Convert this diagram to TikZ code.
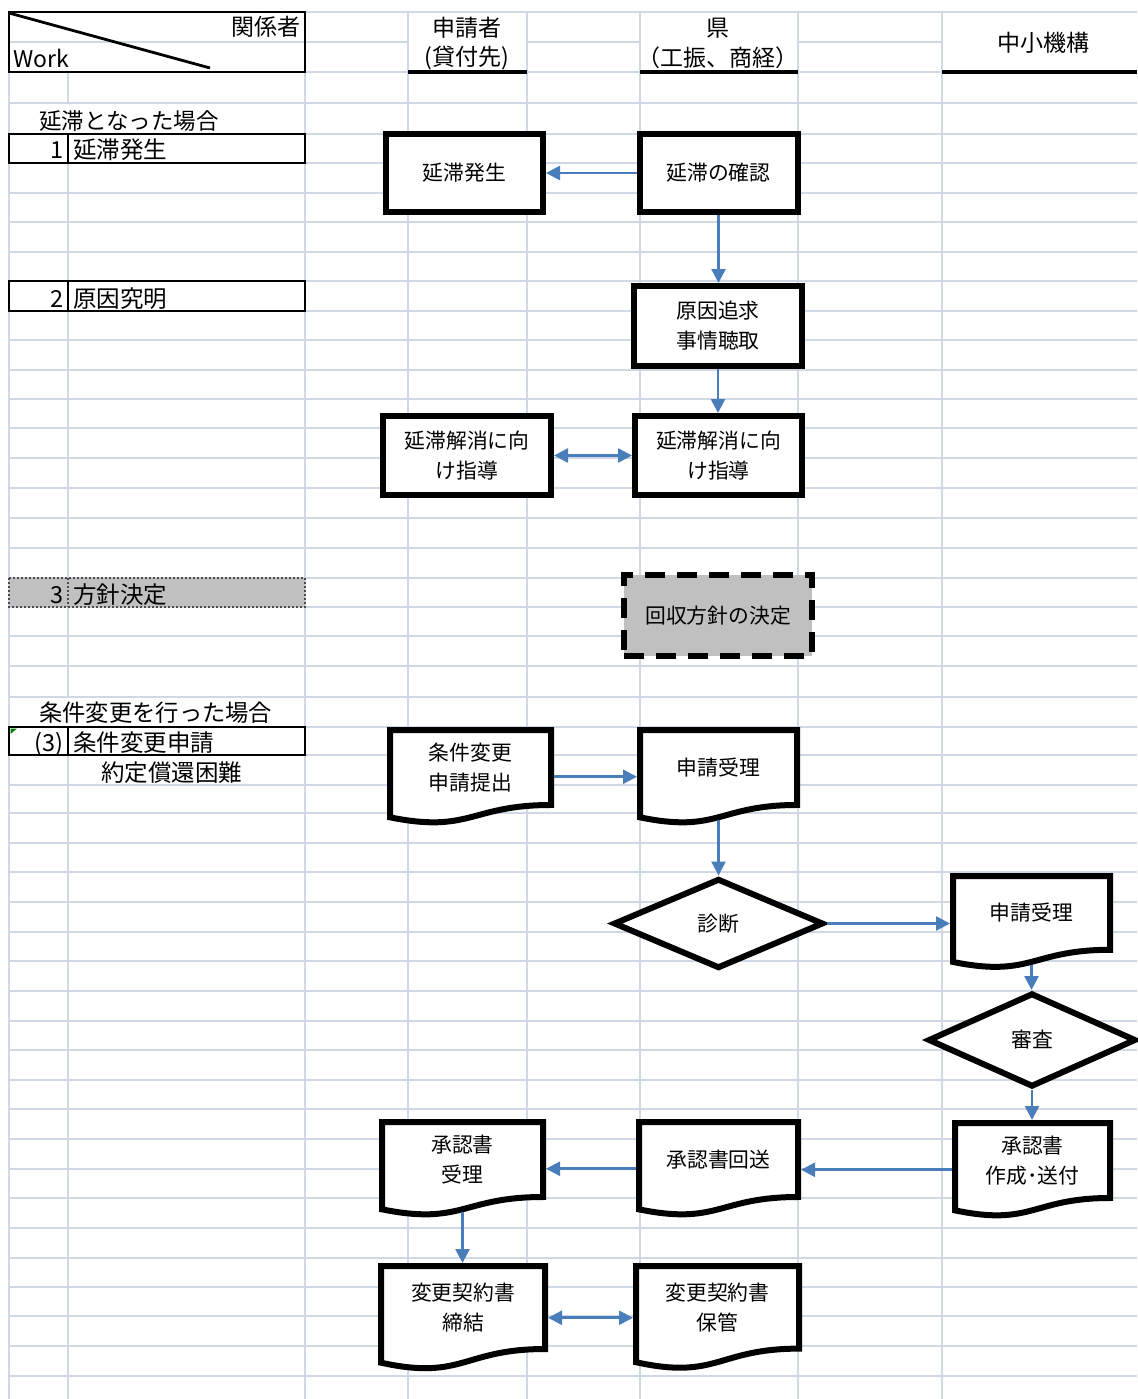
\documentclass[tikz,border=0pt]{standalone}
\usepackage{fontspec}
\setmainfont{Noto Sans CJK JP}
\usetikzlibrary{arrows.meta,shapes.geometric}
\definecolor{gridc}{RGB}{208,215,229}
\definecolor{arrc}{RGB}{74,126,187}
\definecolor{boxgray}{RGB}{192,192,192}
\newcommand\mydoc[6]{%
  \draw[docline] (#2,#3) -- (#2+#4,#3) -- (#2+#4,#3+0.802*#5)
     .. controls (#2+#4/2,#3+0.802*#5) and (#2+#4/2,#3+1.1075*#5) .. (#2,#3+0.934*#5) -- cycle;
  \node[doctext] (#1) at (#2+#4/2,#3+0.401*#5) {#6};
  \coordinate (#1-n) at (#2+#4/2,#3-3);
  \coordinate (#1-w) at (#2-3,#3+#5/2);
  \coordinate (#1-e) at (#2+#4+3,#3+#5/2);
  \coordinate (#1-b) at (#2+#4/2,#3+0.933*#5+3);
}
\begin{document}
\begin{tikzpicture}[x=1pt,y=-1pt,
  gline/.style={draw=gridc,line width=2.2pt},
  lbox/.style={draw=black,line width=2.5pt},
  flowbox/.style={rectangle,draw=black,line width=6pt,fill=white,inner sep=0pt,align=center,font=\fontsize{20.8}{30}\selectfont},
  doctext/.style={inner sep=0pt,align=center,font=\fontsize{20.8}{30}\selectfont},
  docline/.style={draw=black,line width=6pt,fill=white,line join=miter},
  flowdia/.style={diamond,draw=black,line width=6pt,fill=white,inner sep=0pt,font=\fontsize{20.8}{30}\selectfont},
  conn/.style={draw=arrc,line width=2.6pt,-{Triangle[length=14pt,width=14pt]}},
  conntwo/.style={draw=arrc,line width=2.6pt,{Triangle[length=14pt,width=14pt]}-{Triangle[length=14pt,width=14pt]}},
  lab/.style={inner sep=0pt,font=\fontsize{23.5}{28}\selectfont},
  hdr/.style={inner sep=0pt,font=\fontsize{23}{28}\selectfont},
]
\fill[white] (0,0) rectangle (1137,1399);
\useasboundingbox (0,0) rectangle (1137,1399);

% ---- grid ----
\foreach \y in {12,72,103,134,163,193,222,252,281,311,340,370,399,428,458,488,518,548,578,607,636,666,697,727,755,785,813,843,872,902,932,961,991,1021,1050,1080,1109,1139,1169,1198,1228,1258,1287,1316,1346,1376}
  \draw[gline] (9,\y) -- (1137,\y);
\draw[gline] (9,42) -- (408,42);
\draw[gline] (527,42) -- (640,42);
\draw[gline] (798,42) -- (942,42);
\foreach \x in {9,305,408,527,640,798,942}
  \draw[gline] (\x,12) -- (\x,1399);
\draw[gline] (68,72) -- (68,103);
\draw[gline] (68,134) -- (68,697);
\draw[gline] (68,727) -- (68,1399);

% ---- header ----
\draw[lbox] (9,12) rectangle (305,72);
\draw[black,line width=2.8pt] (9,13) -- (210,68);
\draw[black,line width=4pt] (408,72) -- (527,72);
\draw[black,line width=4pt] (640,72) -- (798,72);
\draw[black,line width=4pt] (942,72) -- (1137,72);
\node[hdr,anchor=east] (h1) at (301,27) {関係者};
\node[hdr,anchor=west] (h2) at (13,58) {Work};
\node[hdr] (h3) at (467,28) {申請者};
\node[hdr] (h4) at (467,58) {(貸付先)};
\node[hdr] (h5) at (718,28) {県};
\node[hdr] (h6) at (718,58) {（工振、商経）};
\node[hdr] (h7) at (1043,43) {中小機構};

% ---- left column ----
\draw[lbox] (9,134) rectangle (305,163);
\draw[lbox] (68,134) -- (68,163);
\draw[lbox] (9,281) rectangle (305,311);
\draw[lbox] (68,281) -- (68,311);
\filldraw[fill=boxgray,draw=black!70,line width=2pt,dotted] (9,578) rectangle (305,607);
\draw[draw=black!70,line width=2pt,dotted] (68,578) -- (68,607);
\draw[lbox] (9,727) rectangle (305,755);
\draw[lbox] (68,727) -- (68,755);
\fill[green!50!black] (10.5,728.5) -- (17,728.5) -- (10.5,734) -- cycle;

\node[lab,anchor=base west,font=\fontsize{22.5}{28}\selectfont] (l0) at (39,130) {延滞となった場合};
\node[lab,anchor=base east] (l1n) at (64,159) {1};
\node[lab,anchor=base west] (l1) at (73,159) {延滞発生};
\node[lab,anchor=base east] (l2n) at (64,307) {2};
\node[lab,anchor=base west] (l2) at (73,307) {原因究明};
\node[lab,anchor=base east] (l3n) at (64,603) {3};
\node[lab,anchor=base west] (l3) at (73,603) {方針決定};
\node[lab,anchor=base west,font=\fontsize{23.3}{28}\selectfont] (l4) at (39,721) {条件変更を行った場合};
\node[lab,anchor=base east] (l5n) at (64,751) {(3)};
\node[lab,anchor=base west] (l5) at (73,751) {条件変更申請};
\node[lab,anchor=base] (l6) at (171.5,781) {約定償還困難};

% ---- flowchart ----
\node[flowbox,minimum width=157pt,minimum height=78pt] (s1) at (464.5,173) {延滞発生};
\node[flowbox,minimum width=158pt,minimum height=78pt] (s2) at (718.5,173) {延滞の確認};
\node[flowbox,minimum width=168pt,minimum height=80pt] (s3) at (718,326) {原因追求\\事情聴取};
\node[flowbox,minimum width=167pt,minimum height=79pt] (s4) at (718.5,455.5) {延滞解消に向\\け指導};
\node[flowbox,minimum width=168pt,minimum height=79pt] (s5) at (467,455.5) {延滞解消に向\\け指導};
\node[flowbox,fill=boxgray,dash pattern=on 20pt off 12pt,line width=6pt,minimum width=188pt,minimum height=81pt] (s6) at (718,615.5) {回収方針の決定};

\mydoc{s7}{390}{730}{161}{93.5}{条件変更\\申請提出}
\mydoc{s8}{640}{730}{157}{93.5}{申請受理}
\node[flowdia,minimum width=210pt,minimum height=90pt] (d1) at (718.5,923.5) {診断};
\mydoc{s10}{953}{876}{157}{92}{申請受理}
\node[flowdia,minimum width=208pt,minimum height=94pt] (d2) at (1032,1040) {審査};
\mydoc{s12}{955}{1123}{155}{93.5}{承認書\\作成･送付}
\mydoc{s13}{639}{1122}{159}{93.5}{承認書回送}
\mydoc{s14}{382}{1122}{161}{93.5}{承認書\\受理}
\mydoc{s15}{381}{1266}{164}{103.5}{変更契約書\\締結}
\mydoc{s16}{636}{1266}{163}{103}{変更契約書\\保管}

% ---- connectors ----
\draw[conn] (s2.west) -- (s1.east);
\draw[conn] (s2.south) -- (s2.south |- s3.north);
\draw[conn] (s3.south) -- (s3.south |- s4.north);
\draw[conntwo] (s5.east) -- (s4.west);
\draw[conn] (s7-e) -- (s8-w);
\draw[conn] (s8-b) -- (s8-b |- d1.north);
\draw[conn] (d1.east) -- (d1.east -| s10-w);
\draw[conn] (s10-b) -- (s10-b |- d2.north);
\draw[conn] (d2.south) -- (d2.south |- s12-n);
\draw[conn] (s12-w) -- (s12-w -| s13-e);
\draw[conn] (s13-w) -- (s13-w -| s14-e);
\draw[conn] (s14-b) -- (s14-b |- s15-n);
\draw[conntwo] (s15-e) -- (s15-e -| s16-w);
\end{tikzpicture}
\end{document}
